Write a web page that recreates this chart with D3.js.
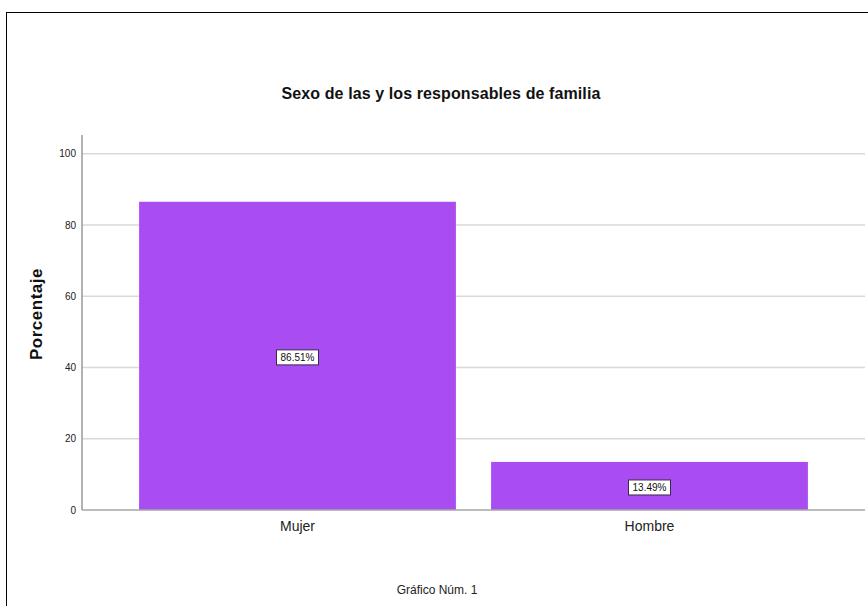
<!DOCTYPE html>
<html><head><meta charset="utf-8">
<script src="https://cdn.jsdelivr.net/npm/d3@7"></script>
<style>body{margin:0;background:#fff}svg{display:block}text{font-family:"Liberation Sans",Arial,sans-serif}</style>
</head><body>
<script>
const categories = ["Mujer", "Hombre"];
const values = [86.51, 13.49];
const valueLabels = ["86.51%", "13.49%"];
const yTicks = [0, 20, 40, 60, 80, 100];
const title = "Sexo de las y los responsables de familia";
const yTitle = "Porcentaje";
const footer = "Gráfico Núm. 1";

const W = 868, H = 606;
const svg = d3.select("body").append("svg").attr("width", W).attr("height", H);

// outer frame
svg.append("rect").attr("x", 6.5).attr("y", 12.5).attr("width", W).attr("height", H)
  .attr("fill", "none").attr("stroke", "#000").attr("stroke-width", 1);

const axX = 82, xEnd = 865;
const y = d3.scaleLinear().domain([0, 100]).range([510, 153.7]);
const x = d3.scaleBand().domain(categories).range([121.5, 825.5]).paddingInner(0.1).paddingOuter(0.05);

// gridlines
svg.append("g").selectAll("line").data(yTicks.filter(d => d > 0)).join("line")
  .attr("x1", axX).attr("x2", xEnd).attr("y1", d => y(d)).attr("y2", d => y(d))
  .attr("stroke", "#d9d9d9").attr("stroke-width", 1.5);

// bars
svg.append("g").selectAll("rect").data(values).join("rect")
  .attr("x", (d, i) => x(categories[i])).attr("width", x.bandwidth())
  .attr("y", d => y(d)).attr("height", d => y(0) - y(d))
  .attr("fill", "#a94cf2");

// y axis
const yAxis = svg.append("g").attr("transform", `translate(${axX},0)`)
  .call(d3.axisLeft(y).tickValues(yTicks).tickSize(0).tickPadding(6));
yAxis.select(".domain").remove();
yAxis.selectAll("text").attr("font-size", 10).attr("fill", "#222").attr("font-family", "Liberation Sans, Arial, sans-serif");
svg.append("line").attr("x1", axX).attr("x2", axX).attr("y1", 135).attr("y2", 510)
  .attr("stroke", "#999").attr("stroke-width", 1.5);

// x axis baseline
const xAxis = svg.append("g").attr("transform", `translate(0,510)`)
  .call(d3.axisBottom(x).tickSize(0).tickPadding(11));
xAxis.select(".domain").remove();
xAxis.selectAll("text").attr("font-size", 14).attr("fill", "#222").attr("font-family", "Liberation Sans, Arial, sans-serif");
svg.append("line").attr("x1", axX).attr("x2", xEnd).attr("y1", 510).attr("y2", 510)
  .attr("stroke", "#a6a6a6").attr("stroke-width", 1.5);

// value labels
const lbl = svg.append("g").selectAll("g").data(values).join("g")
  .attr("transform", (d, i) => `translate(${x(categories[i]) + x.bandwidth()/2},${(y(d) + y(0))/2 + 2})`);
lbl.append("rect").attr("x", -21).attr("y", -8).attr("width", 42).attr("height", 15)
  .attr("fill", "#fff").attr("stroke", "#3a2a4a").attr("stroke-width", 1);
lbl.append("text").attr("text-anchor", "middle").attr("dy", 3.5).attr("font-size", 10).attr("fill", "#111")
  .text((d, i) => valueLabels[i]);

// titles
svg.append("text").attr("x", 441).attr("y", 98.5).attr("text-anchor", "middle")
  .attr("font-size", 16).attr("letter-spacing", 0.1).attr("font-weight", "bold").attr("fill", "#111").text(title);
svg.append("text").attr("transform", "translate(42,314) rotate(-90)").attr("text-anchor", "middle")
  .attr("font-size", 17).attr("letter-spacing", 0.5).attr("font-weight", "bold").attr("fill", "#111").text(yTitle);
svg.append("text").attr("x", 437).attr("y", 594).attr("text-anchor", "middle")
  .attr("font-size", 12).attr("fill", "#222").text(footer);
</script>
</body></html>
